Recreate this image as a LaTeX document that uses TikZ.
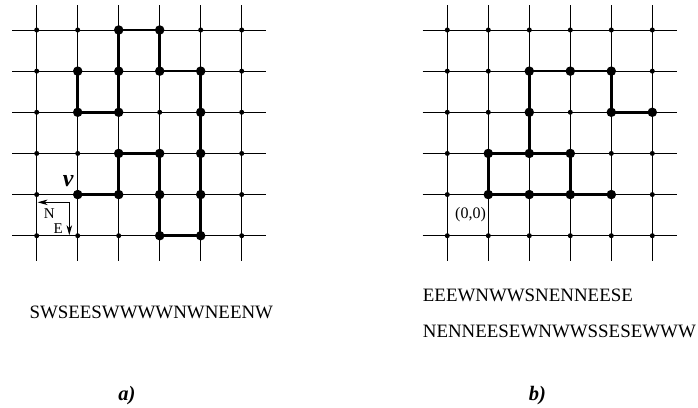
\documentclass[tikz,border=0pt]{standalone}
\usepackage{fontspec}
\setmainfont{Liberation Serif}
\usetikzlibrary{arrows.meta}
\begin{document}
\begin{tikzpicture}[x=1pt,y=-1pt,
  gridline/.style={line width=1pt,black},
  pathline/.style={line width=2.7pt,black,line join=miter},
  smalldot/.style={circle,fill=black,inner sep=0pt,minimum size=5pt},
  bigdot/.style={circle,fill=black,inner sep=0pt,minimum size=9.5pt},
  seqtext/.style={inner sep=0pt,anchor=base west,font=\fontsize{18.9}{22}\selectfont},
  captext/.style={inner sep=0pt,anchor=base,font=\fontsize{20.5}{24}\selectfont\bfseries\itshape},
  smalltext/.style={inner sep=0pt,font=\fontsize{15}{18}\selectfont},
  legarrow/.style={line width=0.9pt,-{Stealth[length=10pt,width=5.5pt,inset=3pt]}}
]
\useasboundingbox (0,0) rectangle (698,407);
% ---------- grids ----------
\foreach \g/\xo in {L/36.7,R/447.3}{
  \foreach \i in {0,...,5}{
    \draw[gridline] (\xo+41*\i,5) -- (\xo+41*\i,261);
    \draw[gridline] (\xo-24.7,30+41.14*\i) -- (\xo+205+24.7,30+41.14*\i);
  }
  \foreach \i in {0,...,5}{
    \foreach \j in {0,...,5}{
      \node[smalldot] (\g-\i-\j) at (\xo+41*\i,30+41.14*\j) {};
    }
  }
}
% ---------- left walk ----------
\draw[pathline] (L-1-4.center) -- (L-2-4.center) -- (L-2-3.center) -- (L-3-3.center)
  -- (L-3-4.center) -- (L-3-5.center) -- (L-4-5.center) -- (L-4-4.center)
  -- (L-4-3.center) -- (L-4-2.center) -- (L-4-1.center) -- (L-3-1.center)
  -- (L-3-0.center) -- (L-2-0.center) -- (L-2-1.center) -- (L-2-2.center)
  -- (L-1-2.center) -- (L-1-1.center);
\foreach \p in {2-0,3-0,1-1,2-1,3-1,4-1,1-2,2-2,4-2,2-3,3-3,4-3,1-4,2-4,3-4,4-4,3-5,4-5}{
  \node[bigdot] (LB-\p) at (L-\p) {};
}
% ---------- right walk ----------
\draw[pathline] (R-1-4.center) -- (R-2-4.center) -- (R-3-4.center) -- (R-4-4.center);
\draw[pathline] (R-3-4.center) -- (R-3-3.center) -- (R-2-3.center) -- (R-1-3.center) -- (R-1-4.center);
\draw[pathline] (R-2-3.center) -- (R-2-2.center) -- (R-2-1.center) -- (R-3-1.center)
  -- (R-4-1.center) -- (R-4-2.center) -- (R-5-2.center);
\foreach \p in {2-1,3-1,4-1,2-2,4-2,5-2,1-3,2-3,3-3,1-4,2-4,3-4,4-4}{
  \node[bigdot] (RB-\p) at (R-\p) {};
}
% ---------- legend and labels ----------
\coordinate (legc) at (69.3,202.3);
\coordinate (legN) at (37.6,202.3);
\coordinate (legE) at (69.3,235.2);
\draw[legarrow] (legc) -- (legN);
\draw[legarrow] (legc) -- (legE);
\node[smalltext] (labN) at (49.3,214) {N};
\node[smalltext] (labE) at (58.3,228.3) {E};
\node[inner sep=0pt,anchor=base,font=\fontsize{24}{28}\selectfont\bfseries\itshape] (labv) at (68.3,186.7) {v};
\node[inner sep=0pt,font=\fontsize{16}{19}\selectfont] (lab00) at (470.5,214.3) {(0,0)};
% ---------- texts ----------
\node[seqtext] (seqA) at (29.3,318.3) {SWSEESWWWWNWNEENW};
\node[seqtext] (seqB1) at (422.7,301) {EEEWNWWSNENNEESE};
\node[seqtext] (seqB2) at (422.7,337.7) {NENNEESEWNWWSSESEWWW};
\node[captext] (capA) at (127,400) {a)};
\node[captext] (capB) at (537.5,400) {b)};
\end{tikzpicture}
\end{document}
